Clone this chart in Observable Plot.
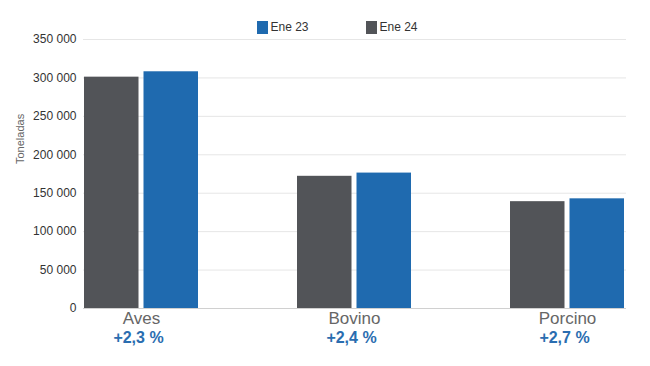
<!DOCTYPE html>
<html>
<head>
<meta charset="utf-8">
<script src="https://cdn.jsdelivr.net/npm/d3@7"></script>
<script src="https://cdn.jsdelivr.net/npm/@observablehq/plot@0.6"></script>
<style>
  html, body { margin: 0; padding: 0; background: #fff; }
  #wrap { position: relative; width: 650px; height: 366px; font-family: "Liberation Sans", Arial, sans-serif; }
  #legend { position: absolute; left: 257px; top: 20px; display: flex; font-size: 12px; color: #333; }
  .item { display: flex; align-items: flex-end; width: 109px; }
  .sw { width: 10.5px; height: 13px; margin-right: 3px; }
  #chart { position: absolute; left: 0; top: 0; }
</style>
</head>
<body>
<div id="wrap">
  <div id="chart"></div>
  <div id="legend"></div>
</div>
<script>
// Data
const categories = ["Aves", "Bovino", "Porcino"];
const seriesNames = ["Ene 23", "Ene 24"];
const seriesColors = ["#1f6aaf", "#525458"];
const ene24 = [301000, 172000, 139000];   // gray bars (left)
const ene23 = [308000, 176200, 142700];   // blue bars (right)
const changes = ["+2,3 %", "+2,4 %", "+2,7 %"];
const yTicks = [0, 50000, 100000, 150000, 200000, 250000, 300000, 350000];
const yLabel = "Toneladas";

const rows24 = categories.map((c, i) => ({cat: c, series: "Ene 24", value: ene24[i]}));
const rows23 = categories.map((c, i) => ({cat: c, series: "Ene 23", value: ene23[i]}));
const pctRows = categories.map((c, i) => ({cat: c, text: changes[i]}));

const fmt = d => d3.format(",")(d).replace(/,/g, " ");

const chart = Plot.plot({
  width: 650,
  height: 366,
  marginLeft: 83,
  marginRight: 24,
  marginTop: 39,
  marginBottom: 58,
  style: {fontFamily: "Liberation Sans, Arial, sans-serif", background: "transparent"},
  x: {domain: categories, paddingInner: 0.4626, paddingOuter: 0, label: null},
  y: {domain: [0, 350000], label: null},
  color: {domain: seriesNames, range: seriesColors},
  marks: [
    Plot.gridY(yTicks, {stroke: "#e6e6e6", strokeOpacity: 1}),
    Plot.barY(rows24, {x: "cat", y: "value", fill: "series", insetRight: 59.5}),
    Plot.barY(rows23, {x: "cat", y: "value", fill: "series", insetLeft: 59.5}),
    Plot.ruleY([0], {stroke: "#d0d0d0"}),
    Plot.axisY({ticks: yTicks, tickFormat: fmt, tickSize: 0, tickPadding: 7, fontSize: 12, color: "#333", label: null}),
    Plot.axisX({tickSize: 0, tickPadding: 3, fontSize: 17, color: "#666", label: null}),
    Plot.text(pctRows, {x: "cat", text: "text", frameAnchor: "bottom", lineAnchor: "top", dy: 23, dx: -3, fill: "#2a6db0", fontWeight: "bold", fontSize: 16}),
    Plot.text([yLabel], {text: d => d, frameAnchor: "left", rotate: -90, dx: -63, dy: -10, fontSize: 11, fill: "#666"})
  ]
});
document.getElementById("chart").appendChild(chart);

// Legend
const legend = document.getElementById("legend");
seriesNames.forEach((name, i) => {
  const item = document.createElement("div");
  item.className = "item";
  const sw = document.createElement("div");
  sw.className = "sw";
  sw.style.background = seriesColors[i];
  const lab = document.createElement("span");
  lab.textContent = name;
  item.appendChild(sw);
  item.appendChild(lab);
  legend.appendChild(item);
});
</script>
</body>
</html>
